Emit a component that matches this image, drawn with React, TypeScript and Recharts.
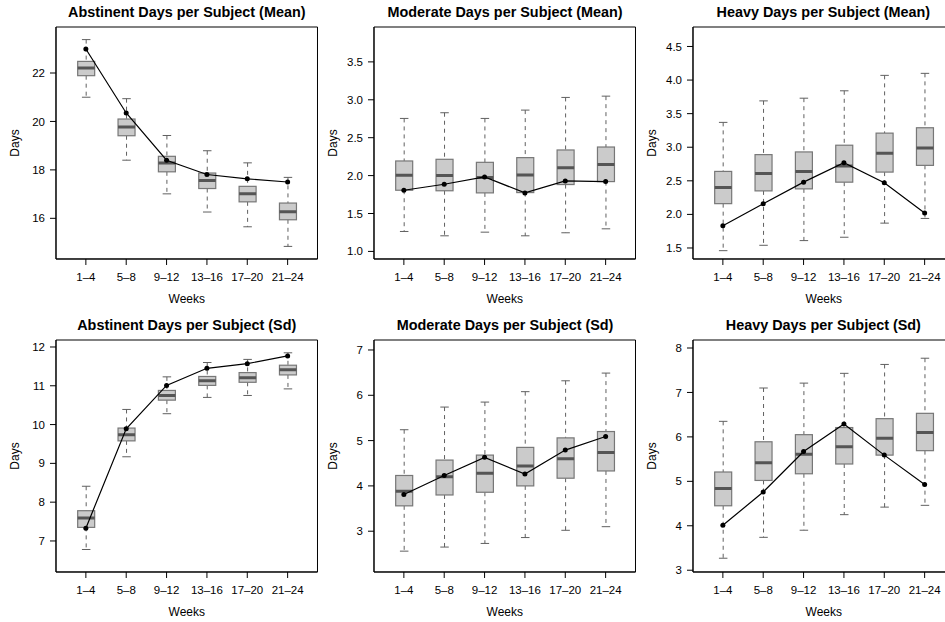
import React from 'react';
import { ComposedChart, Bar, Line, XAxis, YAxis, Label, ReferenceArea } from 'recharts';

const weeks = ['1–4', '5–8', '9–12', '13–16', '17–20', '21–24'];

// box stats per period: [lower whisker, Q1, median, Q3, upper whisker]
const abstinentMeanBoxes = [
  [21.0, 21.89, 22.21, 22.48, 23.38],
  [18.4, 19.41, 19.77, 20.1, 20.94],
  [17.01, 17.92, 18.28, 18.56, 19.42],
  [16.26, 17.23, 17.56, 17.87, 18.79],
  [15.65, 16.68, 17.01, 17.32, 18.29],
  [14.84, 15.94, 16.27, 16.63, 17.69],
];
const abstinentMeanObserved = [22.99, 20.35, 18.4, 17.81, 17.63, 17.5];

const moderateMeanBoxes = [
  [1.263, 1.807, 2.004, 2.193, 2.754],
  [1.206, 1.8, 2.0, 2.215, 2.829],
  [1.254, 1.772, 1.974, 2.175, 2.754],
  [1.206, 1.776, 2.009, 2.237, 2.864],
  [1.246, 1.882, 2.105, 2.338, 3.031],
  [1.298, 1.921, 2.145, 2.377, 3.048],
];
const moderateMeanObserved = [1.807, 1.886, 1.982, 1.772, 1.93, 1.921];

const heavyMeanBoxes = [
  [1.46, 2.16, 2.4, 2.64, 3.37],
  [1.54, 2.35, 2.61, 2.89, 3.69],
  [1.61, 2.38, 2.64, 2.93, 3.73],
  [1.66, 2.48, 2.72, 3.03, 3.84],
  [1.87, 2.63, 2.91, 3.21, 4.07],
  [1.94, 2.73, 2.99, 3.29, 4.1],
];
const heavyMeanObserved = [1.83, 2.16, 2.48, 2.77, 2.47, 2.02];

const abstinentSdBoxes = [
  [6.78, 7.35, 7.59, 7.78, 8.41],
  [9.17, 9.58, 9.74, 9.91, 10.39],
  [10.28, 10.63, 10.75, 10.88, 11.23],
  [10.7, 11.01, 11.13, 11.24, 11.6],
  [10.75, 11.09, 11.21, 11.34, 11.68],
  [10.92, 11.28, 11.41, 11.53, 11.85],
];
const abstinentSdObserved = [7.33, 9.89, 11.01, 11.45, 11.57, 11.77];

const moderateSdBoxes = [
  [2.56, 3.56, 3.88, 4.23, 5.24],
  [2.65, 3.8, 4.2, 4.57, 5.74],
  [2.73, 3.86, 4.28, 4.68, 5.85],
  [2.86, 4.0, 4.44, 4.85, 6.08],
  [3.02, 4.17, 4.6, 5.06, 6.32],
  [3.1, 4.33, 4.74, 5.2, 6.49],
];
const moderateSdObserved = [3.81, 4.23, 4.63, 4.26, 4.79, 5.09];

const heavySdBoxes = [
  [3.27, 4.45, 4.84, 5.21, 6.35],
  [3.74, 5.02, 5.42, 5.89, 7.1],
  [3.9, 5.17, 5.61, 6.05, 7.21],
  [4.25, 5.39, 5.78, 6.21, 7.43],
  [4.42, 5.59, 5.97, 6.41, 7.63],
  [4.46, 5.69, 6.1, 6.53, 7.77],
];
const heavySdObserved = [4.01, 4.76, 5.67, 6.29, 5.59, 4.93];

const abstinentMeanTicks = [16, 18, 20, 22];
const moderateMeanTicks = [1.0, 1.5, 2.0, 2.5, 3.0, 3.5];
const heavyMeanTicks = [1.5, 2.0, 2.5, 3.0, 3.5, 4.0, 4.5];
const abstinentSdTicks = [7, 8, 9, 10, 11, 12];
const moderateSdTicks = [3, 4, 5, 6, 7];
const heavySdTicks = [3, 4, 5, 6, 7, 8];

const panels = [
  { title: 'Abstinent Days per Subject (Mean)', boxes: abstinentMeanBoxes, observed: abstinentMeanObserved, ticks: abstinentMeanTicks, domain: [14.32, 23.9], digits: 0 },
  { title: 'Moderate Days per Subject (Mean)', boxes: moderateMeanBoxes, observed: moderateMeanObserved, ticks: moderateMeanTicks, domain: [0.9, 3.96], digits: 1 },
  { title: 'Heavy Days per Subject (Mean)', boxes: heavyMeanBoxes, observed: heavyMeanObserved, ticks: heavyMeanTicks, domain: [1.336, 4.79], digits: 1 },
  { title: 'Abstinent Days per Subject (Sd)', boxes: abstinentSdBoxes, observed: abstinentSdObserved, ticks: abstinentSdTicks, domain: [6.2, 12.18], digits: 0 },
  { title: 'Moderate Days per Subject (Sd)', boxes: moderateSdBoxes, observed: moderateSdObserved, ticks: moderateSdTicks, domain: [2.1, 7.22], digits: 0 },
  { title: 'Heavy Days per Subject (Sd)', boxes: heavySdBoxes, observed: heavySdObserved, ticks: heavySdTicks, domain: [2.96, 8.18], digits: 0 },
];

const FONT = '"Liberation Sans", Arial, Helvetica, sans-serif';
const CELL_W = 318.3;
const CELL_H = 313;
const X_TICKS = [1, 2, 3, 4, 5, 6];
const X_DOMAIN = [0.26, 6.74];

// draws the whole box plot from the IQR bar geometry
function BoxShape(props: any) {
  const { x, y, width, height, payload } = props;
  const [lo, q1, med, q3, hi] = payload.box;
  const top = Math.min(y, y + height);
  const h = Math.abs(height);
  const k = h / (q3 - q1);
  const toY = (v: number) => top + (q3 - v) * k;
  const cx = x + width / 2;
  const cap = width / 4;
  return (
    <g>
      <line x1={cx} x2={cx} y1={toY(hi)} y2={top} stroke="#5f5f5f" strokeDasharray="4 4" />
      <line x1={cx} x2={cx} y1={top + h} y2={toY(lo)} stroke="#5f5f5f" strokeDasharray="4 4" />
      <line x1={cx - cap} x2={cx + cap} y1={toY(hi)} y2={toY(hi)} stroke="#5f5f5f" />
      <line x1={cx - cap} x2={cx + cap} y1={toY(lo)} y2={toY(lo)} stroke="#5f5f5f" />
      <rect x={x} y={top} width={width} height={h} fill="#cbcbcb" stroke="#777" strokeWidth={1.2} />
      <line x1={x} x2={x + width} y1={toY(med)} y2={toY(med)} stroke="#555" strokeWidth={3} />
    </g>
  );
}

function Panel({ cfg, left, top }: { cfg: any; left: number; top: number }) {
  const data = weeks.map((w, i) => ({
    pos: i + 1,
    week: w,
    iqr: [cfg.boxes[i][1], cfg.boxes[i][3]],
    box: cfg.boxes[i],
    observed: cfg.observed[i],
  }));
  return (
    <div style={{ position: 'absolute', left, top, width: CELL_W, height: CELL_H }}>
      <div
        style={{
          position: 'absolute', left: 56, width: 261.5, top: 3, textAlign: 'center',
          fontWeight: 'bold', fontSize: 14.4, lineHeight: '18px', color: '#000', fontFamily: FONT,
        }}
      >
        {cfg.title}
      </div>
      <ComposedChart width={CELL_W} height={CELL_H} data={data} margin={{ top: 27, right: 0.8, bottom: 0, left: 0 }}>
        <XAxis
          dataKey="pos"
          type="number"
          domain={X_DOMAIN}
          ticks={X_TICKS}
          allowDataOverflow
          interval={0}
          height={54}
          tickSize={6}
          tickMargin={8}
          stroke="#000"
          tick={{ fontSize: 11.5, fill: '#000', fontFamily: FONT }}
          tickFormatter={(v: number) => weeks[v - 1]}
        >
          <Label
            content={(p: any) => (
              <text x={p.viewBox.x + p.viewBox.width / 2} y={p.viewBox.y + 40} textAnchor="middle" dominantBaseline="central" fontSize={12} fontFamily={FONT} fill="#000">
                Weeks
              </text>
            )}
          />
        </XAxis>
        <YAxis
          width={56}
          type="number"
          domain={cfg.domain}
          ticks={cfg.ticks}
          allowDataOverflow
          tickSize={6}
          tickMargin={5}
          stroke="#000"
          tick={{ fontSize: 11.5, fill: '#000', fontFamily: FONT }}
          tickFormatter={(v: number) => v.toFixed(cfg.digits)}
        >
          <Label
            content={(p: any) => {
              const lx = p.viewBox.x + 15;
              const ly = p.viewBox.y + p.viewBox.height / 2;
              return (
                <text x={lx} y={ly} transform={`rotate(-90 ${lx} ${ly})`} textAnchor="middle" dominantBaseline="central" fontSize={12} fontFamily={FONT} fill="#000">
                  Days
                </text>
              );
            }}
          />
        </YAxis>
        {/* frame around the plotting region */}
        <ReferenceArea
          x1={X_DOMAIN[0]}
          x2={X_DOMAIN[1]}
          y1={cfg.domain[0]}
          y2={cfg.domain[1]}
          fill="none"
          fillOpacity={0}
          stroke="#000"
          strokeWidth={1}
          strokeOpacity={1}
          ifOverflow="visible"
        />
        <Bar dataKey="iqr" barSize={17} isAnimationActive={false} shape={(p: any) => <BoxShape {...p} />} />
        <Line
          dataKey="observed"
          type="linear"
          stroke="#000"
          strokeWidth={1.2}
          dot={{ r: 2.5, fill: '#000', stroke: '#000', strokeWidth: 0 }}
          isAnimationActive={false}
        />
      </ComposedChart>
    </div>
  );
}

export default function App() {
  return (
    <div style={{ position: 'fixed', left: 0, top: 0, width: 945, height: 622, overflow: 'hidden', background: '#fff' }}>
      {panels.map((cfg, i) => (
        <Panel key={cfg.title} cfg={cfg} left={(i % 3) * CELL_W} top={Math.floor(i / 3) * CELL_H} />
      ))}
    </div>
  );
}
